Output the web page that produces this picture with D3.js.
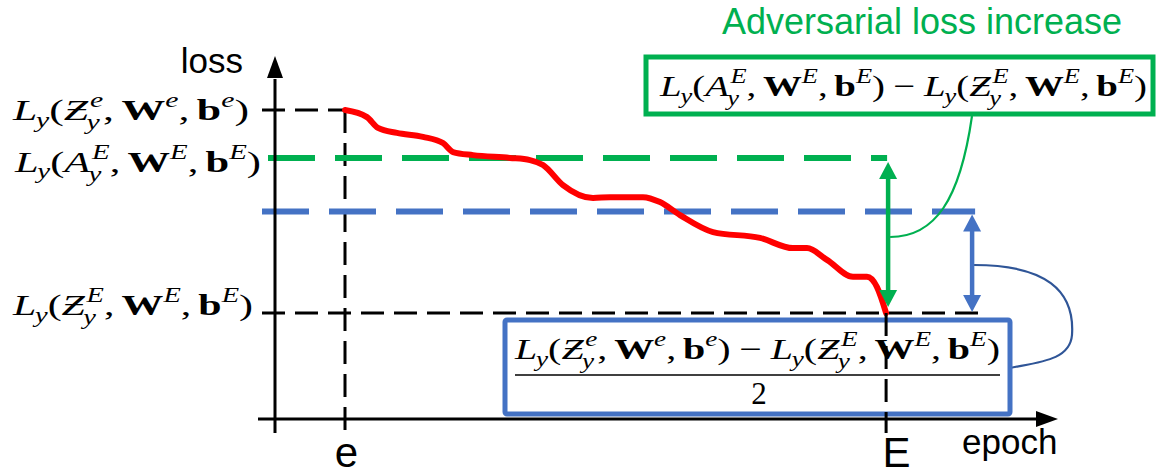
<!DOCTYPE html>
<html>
<head>
<meta charset="utf-8">
<script src="https://cdn.jsdelivr.net/npm/d3@7"></script>
<style>
  html, body { margin: 0; padding: 0; background: #fff; }
  svg { display: block; }
</style>
</head>
<body>
<svg id="chart" width="1160" height="476"></svg>
<script>
// Two marked epochs on the horizontal axis
const epochTicks = [10, 87.3];
const epochTickLabels = ["e", "E"];

// Training loss from epoch e to epoch E
const curveEpochs = [10, 13.14, 14.71, 17.43, 21.14, 24, 25.43, 28.29, 33.57, 36.43, 38.29, 41.14, 45.43,
  47.86, 52.57, 55, 57.86, 62.57, 69.29, 74, 76, 78.86, 82.57, 84.57, 86, 87.3];
const curveLoss = [1, 0.977, 0.942, 0.926, 0.913, 0.893, 0.864, 0.854, 0.845, 0.838, 0.822, 0.757, 0.715,
  0.718, 0.718, 0.702, 0.66, 0.605, 0.586, 0.553, 0.553, 0.515, 0.46, 0.46, 0.427, 0.343];

// Reference loss levels: clean loss at e, adversarial loss at E, clean loss at E
const lossLevels = [1.0, 0.845, 0.343];
const setSymbols = ["\u01B5", "A", "\u01B5"];   // calligraphic Z, A, Z
const levelEpochs = ["e", "E", "E"];

const axisTitles = { y: "loss", x: "epoch" };
const calloutTitle = "Adversarial loss increase";

const svg = d3.select("#chart");
const x = d3.scaleLinear().domain([0, 110]).range([275, 1045]);
const y = d3.scaleLinear().domain([0, 1]).range([419, 110]);

const COL = { black: "#000", green: "#00b050", blue: "#4472c4", navy: "#2f5597", red: "#ff0000" };
const sans = "'Liberation Sans', Arial, sans-serif";
const serif = "'Liberation Serif', 'Times New Roman', serif";
const MATH = 30;

const eX = x(epochTicks[0]), EX = x(epochTicks[1]);
const yStart = y(lossLevels[0]), yAdv = y(lossLevels[1]), yEnd = y(lossLevels[2]);
const yHalf = y((lossLevels[0] + lossLevels[2]) / 2);
const axisX = x(0), axisY = y(0);

// ---- math typesetting helper: lays out base glyphs with sub/superscripts ----
function mathText(parent, atoms, o) {
  const inner = parent.append("g");
  const s = o.size;
  let cx = 0;
  const put = (txt, kind, size, px, py) => {
    const t = inner.append("text")
      .attr("x", px).attr("y", py)
      .attr("font-family", serif).attr("font-size", size)
      .attr("font-style", kind === "i" ? "italic" : "normal")
      .attr("font-weight", kind === "b" ? "bold" : "normal")
      .attr("fill", "#000")
      .text(txt);
    return t.node().getComputedTextLength();
  };
  atoms.forEach(a => {
    cx += (a.before || 0) * s;
    const w = put(a.t, a.k, s, cx, 0);
    const ss = s * 0.68;
    let sw = 0;
    if (a.sub) {
      const k = (a.subK || 0) * s;
      sw = Math.max(sw, k + put(a.sub, "i", ss, cx + w + k, (a.sup ? 0.3 : 0.22) * s));
    }
    if (a.sup) {
      const k = (a.supK || 0) * s;
      sw = Math.max(sw, k + put(a.sup, "i", ss, cx + w + k, -0.42 * s));
    }
    cx += w + sw + (a.after || 0) * s;
  });
  const sx = o.width ? o.width / cx : 1;
  const w = cx * sx;
  const x0 = o.anchor === "end" ? o.x - w : o.anchor === "middle" ? o.x - w / 2 : o.x;
  inner.attr("transform", `translate(${x0},${o.y}) scale(${sx},1)`);
  return w;
}

const lossTerm = (sym, ep) => [
  { t: "L", k: "i", sub: "y", subK: -0.03 },
  { t: "(", k: "r" },
  { t: sym, k: "i", sub: "y", sup: ep, subK: -0.04, supK: 0.04 },
  { t: ",", k: "r", after: 0.17 },
  { t: "W", k: "b", sup: ep },
  { t: ",", k: "r", after: 0.17 },
  { t: "b", k: "b", sup: ep },
  { t: ")", k: "r" }
];
const minus = [{ t: "\u2212", k: "r", before: 0.22, after: 0.22 }];

// ---- dashed reference levels ----
const dashed = (d, color, width, dash) => svg.append("path")
  .attr("d", d).attr("fill", "none")
  .attr("stroke", color).attr("stroke-width", width)
  .attr("stroke-dasharray", dash);

dashed(`M${axisX - 13},${yStart}H${eX}`, COL.black, 3, "23,10");
dashed(`M${eX},${yStart}V${axisY + 14}`, COL.black, 3, "23,10");
dashed(`M${axisX - 7},${yAdv}H${EX + 1}`, COL.green, 6, "47,20");
dashed(`M${axisX - 13},${yHalf}H${EX + 89}`, COL.blue, 6, "47,20");
dashed(`M${axisX - 13},${yEnd}H${EX + 99}`, COL.black, 3, "23,10");

// ---- loss curve ----
const line = d3.line().x(d => x(d[0])).y(d => y(d[1])).curve(d3.curveMonotoneX);
svg.append("path")
  .datum(curveEpochs.map((e, i) => [e, curveLoss[i]]))
  .attr("d", line)
  .attr("fill", "none").attr("stroke", COL.red)
  .attr("stroke-width", 6).attr("stroke-linejoin", "round").attr("stroke-linecap", "round");

// ---- axes with arrow heads ----
svg.append("path").attr("d", `M${axisX},${axisY + 14}V${y(1.1)}`)
  .attr("stroke", COL.black).attr("stroke-width", 3);
svg.append("path").attr("d", `M${axisX},${y(1.175)}l-8,22h16z`).attr("fill", COL.black);
svg.append("path").attr("d", `M${axisX - 17},${axisY}H${x(108.9)}`)
  .attr("stroke", COL.black).attr("stroke-width", 3);
svg.append("path").attr("d", `M${x(111.86)},${axisY}l-22,-8v16z`).attr("fill", COL.black);

const xAxis = d3.axisBottom(x).tickValues(epochTicks)
  .tickFormat((d, i) => epochTickLabels[i]).tickSize(0).tickPadding(0);
const gx = svg.append("g").attr("transform", `translate(0,${axisY + 48})`).call(xAxis);
gx.select(".domain").remove();
gx.selectAll("text")
  .attr("y", 0).attr("dy", 0)
  .attr("dx", (d, i) => (i === 1 ? 10 : 1))
  .attr("font-family", sans).attr("font-size", 42).attr("fill", COL.black);

svg.append("text").attr("x", axisX - 32).attr("y", 73).attr("text-anchor", "end")
  .attr("font-family", sans).attr("font-size", 35).text(axisTitles.y);
svg.append("text").attr("x", 962).attr("y", 454)
  .attr("font-family", sans).attr("font-size", 35).text(axisTitles.x);

// ---- level labels on the loss axis ----
const labelRight = [249, 261, 253];
const labelWidth = [236, 246, 240];
const labelBaseline = [10, 14, 2];
lossLevels.forEach((v, i) => {
  mathText(svg, lossTerm(setSymbols[i], levelEpochs[i]),
    { x: labelRight[i], y: y(v) + labelBaseline[i], size: MATH, anchor: "end", width: labelWidth[i] });
});

// ---- double arrows ----
function doubleArrow(xp, y1, y2, color) {
  svg.append("path").attr("d", `M${xp},${y1 + 14}V${y2 - 14}`)
    .attr("stroke", color).attr("stroke-width", 4.5);
  svg.append("path").attr("d", `M${xp},${y1}l-9,17h18z`).attr("fill", color);
  svg.append("path").attr("d", `M${xp},${y2}l-9,-17h18z`).attr("fill", color);
}
doubleArrow(EX + 2, yAdv + 4, yEnd - 6, COL.green);
doubleArrow(EX + 86, yHalf + 3, yEnd - 1, COL.blue);

// ---- callout connectors ----
svg.append("path").attr("d", `M${EX + 4},237C935,237 960,200 972,116`)
  .attr("fill", "none").attr("stroke", COL.green).attr("stroke-width", 2.2);
svg.append("path").attr("d", `M${EX + 88},265C1045,265 1075,290 1072,335C1070,360 1040,362 1010,368`)
  .attr("fill", "none").attr("stroke", COL.navy).attr("stroke-width", 2.2);

// ---- adversarial callout box ----
svg.append("text").attr("x", 922).attr("y", 34).attr("text-anchor", "middle")
  .attr("font-family", sans).attr("font-size", 36).attr("fill", COL.green).text(calloutTitle);
svg.append("rect").attr("x", 646).attr("y", 57).attr("width", 507).attr("height", 57)
  .attr("fill", "#fff").attr("stroke", COL.green).attr("stroke-width", 5);
mathText(svg, [...lossTerm("A", "E"), ...minus, ...lossTerm("\u01B5", "E")],
  { x: 660, y: 96, size: MATH, anchor: "start", width: 487 });

// ---- half-gap callout box ----
svg.append("rect").attr("x", 505).attr("y", 320).attr("width", 505).attr("height", 94)
  .attr("rx", 2).attr("fill", "#fff").attr("stroke", COL.blue).attr("stroke-width", 5);
mathText(svg, [...lossTerm("\u01B5", "e"), ...minus, ...lossTerm("\u01B5", "E")],
  { x: 515, y: 359, size: MATH, anchor: "start", width: 485 });
svg.append("path").attr("d", "M515,375H1000").attr("stroke", COL.black).attr("stroke-width", 1.5);
svg.append("text").attr("x", 759).attr("y", 404).attr("text-anchor", "middle")
  .attr("font-family", serif).attr("font-size", 31).text("2");

// vertical marker at epoch E, drawn over the box
dashed(`M${EX},${yEnd}V${axisY + 14}`, COL.black, 3, "23,10");
</script>
</body>
</html>
